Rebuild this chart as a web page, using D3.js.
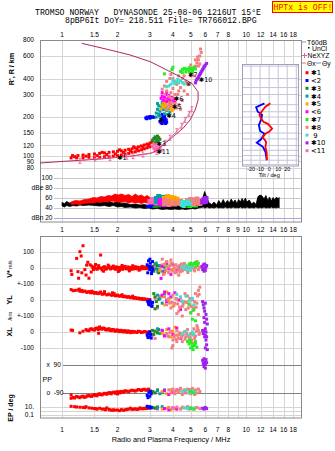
<!DOCTYPE html>
<html><head><meta charset="utf-8">
<script src="https://cdn.jsdelivr.net/npm/d3@7"></script>
<style>body{margin:0;background:#fff}svg{display:block;font-family:"Liberation Sans",Arial,sans-serif}</style>
</head><body><svg id="c" width="335" height="451"></svg>
<script>
// ---------- DATA ----------
const freqGrid = [1,1.5,2,3,4,5,6,7,8,9,10,12,14,16,18];
const topFreqLabels = [1,1.5,2,3,4,5,6,7,8,10,12,14,16,18];
const midFreqLabels = [1,1.5,2,3,4,5,6,7,8,9,10,12,14,16,18];
const botFreqLabels = [1,1.5,2,3,4,5,6,7,8,10,12,14,16,18];
const heightTicks = [800,600,400,300,200,150,120,100,90,80];
const dbTicks = [100,80,60,40,20];
const dbTickLabels = ["100","dBe 80","60","40","dBn 20"];
const classNames = ["\u27311","<2","\u27313","\u27314","\u27315","<6","\u27317","\u27318"," 9","\u273110","<11"];
const classColors = ["#ff0000","#0000ff","#1f8a1f","#00a0a0","#ffa500","#ff00ff","#22ee22","#f08080","#40e0d0","#a020f0","#ff69b4"];

// Ne profile (MHz, km)
const neProfile = [[0.76,87.5],[1.0,90],[1.61,94],[2.34,99],[3.01,104],[3.27,109],[3.41,117],[3.71,128],[4.11,145],[4.55,164],[4.96,190],[5.28,227],[5.48,271],[5.48,315],[5.07,367],[4.38,413],[3.71,466],[3.01,542],[2.34,611],[1.89,660],[1.28,754]];
const neXYZ = [[1.25,91],[1.51,95],[1.82,96],[2.25,98],[2.43,99],[2.75,102],[3.28,107],[3.63,126],[3.86,138],[4.2,155],[4.47,171],[4.66,190],[4.9,212],[5.07,230]];

// top panel echoes (MHz, km)
const c1Top = [[1.12,96],[1.2,96],[1.3,96],[1.4,97],[1.5,97],[1.6,97],[1.7,98],[1.8,98],[1.9,99],[2.0,100],[2.1,101],[2.2,103],[2.3,104],[2.4,106],[2.5,107],[2.6,109],[2.7,111],[2.8,113],[2.9,115],[3.0,117],
 [1.14,100],[1.22,100],[1.3,101],[1.4,102],[1.5,103],[1.6,104],[1.7,105],[1.8,106],[1.9,107],[2.0,108],[2.1,109],[2.2,110],[2.3,112],[2.4,113],[2.5,115],[2.6,117],[2.7,119],[2.8,121],[2.9,123],[3.0,125],[3.06,127],
 [1.17,98],[1.35,99],[1.55,100],[1.75,102],[1.95,103],[2.15,106],[2.35,109],[2.55,112],[2.75,116],[2.95,120],[1.65,106],[2.05,111],[2.45,117]];
const c2Top = [[2.85,197],[2.9,200],[2.95,198],[3.0,196],[3.05,199],[3.1,201],[3.15,199],[2.88,194],[3.0,202],[3.4,185],[3.45,180],[3.5,178],[3.55,183],[3.6,188],[3.45,192],[3.5,196],[3.55,200],[3.62,195],[3.68,190],[3.4,205],[3.5,210],[3.6,205],[3.7,182],[3.65,178]];
const c3Top = [[3.1,132],[3.15,136],[3.2,140],[3.25,135],[3.3,130],[3.35,138],[3.2,128],[3.3,142],[3.4,134]];
const c4Top = [[3.25,215],[3.3,230],[3.35,245],[3.3,255],[3.4,222],[3.45,238],[3.5,250],[3.55,228],[3.6,212],[3.65,240],[3.7,225],[3.75,210],[3.8,232],[3.85,218],[3.25,200],[3.4,205],[3.9,245],[3.5,262],[3.6,255],[3.35,210]];
const c5Top = [[3.45,232],[3.5,248],[3.55,262],[3.6,240],[3.65,255],[3.7,228],[3.75,245],[3.8,260],[3.85,236],[3.9,250],[3.95,225],[4.0,242],[4.05,232],[3.6,270],[3.75,272]];
const c6Top = [[3.45,280],[3.5,292],[3.55,270],[3.6,285],[3.65,300],[3.7,265],[3.75,280],[3.8,295],[3.85,272],[3.9,258],[3.95,285],[4.0,268],[4.05,278],[4.1,262],[3.5,310],[3.7,312]];
const c7Top = [[4.4,455],[4.5,470],[4.6,480],[4.7,475],[4.8,470],[4.9,485],[5.0,480],[5.1,470],[5.2,490],[5.3,475],[4.5,445],[4.7,450],[4.9,455],[5.1,448],[3.6,435],[3.95,470],[4.0,490]];
const c8Top = [[3.7,230],[3.8,245],[3.9,260],[4.0,240],[4.1,255],[4.2,235],[4.3,250],[4.4,230],[3.6,300],[3.7,320],[3.8,290],[3.9,310],[4.0,335],[4.1,300],[4.2,280],[4.3,320],[4.5,270],[3.5,330],[3.6,350],[3.7,380],[3.85,400],[3.9,430],[4.0,400],[4.2,360],[4.4,340],[4.6,320],[4.8,300],[4.3,420],[4.5,400],[4.7,380],[4.9,360],[5.0,420],[5.1,450],[5.2,480],[5.3,500],[5.4,530],[5.5,560],[5.6,600],[5.7,640],[5.5,500],[5.6,520],[5.2,420],[4.9,470],[5.0,510],[5.3,560],[5.45,590],[5.65,680],[4.1,380],[4.6,420],[3.95,280],[4.25,300]];
const c9Top = [[3.9,360],[4.0,375],[4.1,365],[4.2,380],[4.3,370],[4.4,385],[4.5,372],[4.6,362],[3.8,350],[4.0,390],[4.25,395],[3.7,345]];
const c10Top = [[5.3,370],[5.35,385],[5.4,395],[5.5,410],[5.55,420],[5.6,430],[5.7,450],[5.75,460],[5.85,480],[5.9,495],[6.0,510],[6.1,525],[5.45,400],[5.65,440],[5.8,470],[5.95,500]];
const c11Top = [[3.1,118],[3.15,114],[3.2,122],[3.25,116],[3.3,112],[3.35,120],[3.4,115],[3.45,110],[3.2,110],[3.3,124],[3.15,122]];
const echoLabels = [[2.07,97,"\u27311"],[3.48,190,"\u2731"],[3.38,125,"\u27313"],[3.83,204,"\u27314"],[4.11,242,"\u27315"],[4.2,280,"\u27316"],[5.02,432,"\u27317"],[4.86,367,"\u2297"],[5.74,395,"\u273110"],[3.38,108,"\u273111"]];

// inset tilt (deg, km)
const tiltX = [[1.4,256],[-4.4,240],[-7,227],[-10.8,208],[-8.9,196],[-6.3,184],[-1.4,177],[3.3,163],[0.3,154],[-4.1,148],[-7,139],[-3.3,128],[-4.1,117],[-2.6,104],[-2.6,92]];
const tiltY = [[-5.2,256],[-14.4,239],[-12.6,220],[-7.8,208],[-8.9,190],[-11.4,173],[-10,156],[-5.2,148],[-8.9,134],[-13.7,126],[-7,117],[-4.1,107],[-2.6,92]];
const insetGridH = [500,400,340,300,250,220,200,175,150,135,120,110,100,92,85];
const insetGridT = [-20,-10,0,10,20,30];
const insetLabelT = [-20,-10,0,10,20];

// dB panel (MHz, low dB, high dB)
const noiseDb = [[1.0,44,51],[1.03,42,49],[1.06,45,53],[1.1,43,50],[1.15,45,52],[1.2,44,49],[1.25,46,53],[1.3,45,50],[1.4,46,54],[1.5,45,51],[1.6,44,55],[1.7,45,52],[1.8,43,54],[1.9,45,50],[2.0,42,53],[2.1,43,49],[2.2,41,50],[2.35,42,47],[2.5,40,48],[2.65,41,46],[2.8,39,47],[2.95,40,45],[3.1,38,46],[3.3,39,44],[3.5,37,45],[3.7,38,43],[3.9,37,46],[4.1,38,44],[4.3,37,47],[4.5,38,45],[4.7,37,44],[4.9,38,46],[5.1,39,45],[5.3,38,47],[5.5,40,46],[5.7,41,52],[5.85,42,64],[5.95,40,73],[6.05,41,66],[6.15,42,58],[6.3,40,50],[6.5,41,47],[6.7,40,52],[6.9,42,46],[7.1,40,55],[7.3,41,48],[7.5,40,57],[7.7,42,49],[7.9,40,55],[8.1,41,50],[8.3,40,58],[8.5,42,51],[8.7,40,56],[8.9,41,49],[9.1,40,57],[9.3,42,52],[9.5,40,59],[9.7,41,53],[9.9,40,60],[10.1,42,52],[10.4,40,56],[10.7,41,48],[11.0,40,52],[11.3,42,47],[11.6,40,63],[11.9,41,66],[12.2,40,64],[12.5,42,58],[12.8,40,65],[13.1,41,55],[13.4,40,62],[13.7,42,54],[14.0,40,61],[14.3,41,56],[14.6,40,62],[14.9,42,58],[15.1,40,61]];
const c1Db = [[1.12,47,52],[1.18,48,55],[1.25,47,54],[1.32,49,57],[1.4,50,58],[1.48,50,61],[1.55,52,60],[1.62,51,63],[1.7,53,62],[1.78,52,65],[1.86,54,64],[1.94,53,68],[2.02,52,66],[2.1,51,68],[2.2,53,65],[2.3,50,67],[2.4,52,63],[2.5,50,68],[2.6,51,64],[2.7,49,66],[2.8,51,62],[2.9,50,65],[3.0,48,61]];
const c2Db = [[2.95,40,46],[3.05,41,47],[3.15,42,45]];
const c3Db = [[3.2,40,44],[3.35,41,45],[4.85,40,44]];
const c4Db = [[3.25,48,64],[3.35,50,68],[3.45,47,62],[3.55,49,66]];
const c5Db = [[3.6,46,64],[3.75,48,68],[3.9,45,66],[4.05,47,65],[4.2,46,63]];
const c6Db = [[3.4,44,60],[3.55,42,58],[3.7,45,62],[3.85,43,57],[4.0,44,60],[4.3,45,58]];
const c7Db = [[4.95,40,43],[5.3,41,44]];
const c8Db = [[3.6,44,60],[3.8,42,58],[4.1,43,55],[4.4,44,58],[4.8,43,60],[5.0,44,62],[5.2,42,61],[5.4,45,63],[5.6,44,60]];
const c9Db = [[4.5,42,55],[4.6,40,56],[4.7,43,54],[4.8,41,57],[4.9,42,53]];
const c10Db = [[5.8,47,58],[5.9,49,62],[6.0,48,60],[6.05,50,64]];
const c11Db = [[3.0,44,58],[3.1,46,62],[3.2,43,60],[3.3,45,57]];

// V* (m/s)
const c1V = [[1.12,-17],[1.13,-40],[1.22,-23],[1.23,-64],[1.2,60],[1.25,102],[1.27,75],[1.3,139],[1.35,-44],[1.38,36],[1.4,-64],[1.45,12],[1.62,81],[1.42,20],[1.48,-10],[1.5,5],[1.55,-8],[1.58,15],[1.6,0],[1.65,-12],[1.7,8],[1.75,-5],[1.8,10],[1.85,-3],[1.9,12],[1.95,-8],[2.0,4],[2.05,-15],[2.1,6],[2.15,-4],[2.2,10],[2.25,-6],[2.3,2],[2.35,-10],[2.4,5],[2.45,-3],[2.5,8],[2.55,-5],[2.6,0],[2.65,-8],[2.7,4],[2.75,-2],[2.8,6],[2.85,-4],[2.9,2],[2.95,-6],[3.0,3],[1.44,-25],[1.52,22],[1.68,-20],[1.78,18],[2.02,-22],[2.12,16],[2.32,-18],[2.42,14],[2.62,-14],[2.72,10],
 [1.47,3],[1.53,-4],[1.57,6],[1.63,-3],[1.67,4],[1.72,-7],[1.77,3],[1.83,-6],[1.87,5],[1.92,-2],[1.97,7],[2.03,-5],[2.07,3],[2.13,-8],[2.17,5],[2.23,-3],[2.28,7],[2.33,-5],[2.38,3],[2.43,-7],[2.48,2],[2.53,-3],[2.58,5],[2.63,-2],[2.68,-5],[2.73,3],[2.78,-4],[2.83,2],[2.88,-3],[2.93,4],[2.98,-2],[3.02,5],[1.33,-10],[1.36,18],[1.28,-30]];
const c2V = [[2.9,20],[2.95,45],[3.0,-10],[3.02,30],[3.05,5],[3.08,-20],[3.1,40],[3.12,-5],[2.92,-30],[3.0,55],[2.97,10],[3.06,-35]];
const c3V = [[3.1,10],[3.15,-20],[3.2,25],[3.25,-5],[3.3,15],[3.35,-30]];
const c4V = [[3.25,30],[3.3,-10],[3.4,15],[3.5,-20],[3.6,5],[3.7,25]];
const c5V = [[3.4,-15],[3.5,20],[3.6,-35],[3.7,10],[3.8,-25],[3.9,30],[4.0,-10]];
const c6V = [[3.45,-65],[3.5,10],[3.6,-20],[3.7,35],[3.8,-5],[3.9,-40],[4.0,20],[4.2,-15],[4.3,5]];
const c7V = [[4.9,25],[5.0,30],[5.1,20],[5.2,28],[5.3,35],[5.4,22],[5.5,30],[5.35,15]];
const c8V = [[3.5,55],[3.55,-40],[3.6,25],[3.65,-15],[3.7,40],[3.75,5],[3.8,-30],[3.85,15],[3.9,-10],[3.95,30],[4.0,-20],[4.05,10],[4.1,-5],[4.15,20],[4.2,-25],[4.25,8],[4.3,-12],[4.35,15],[4.4,-8],[4.45,25],[4.5,-18],[4.55,5],[4.6,-10],[4.65,18],[4.7,-5],[4.75,10],[4.8,-15],[4.85,6],[4.9,-8],[4.95,12],[5.0,-3],[5.1,8],[5.2,-6],[5.3,4],[5.4,40],[5.5,-10],[5.6,5],[4.3,-45],[3.9,50],[4.12,-30],[4.38,-25],[4.62,28],[4.82,-28],[5.05,15],[5.25,-18],[5.45,12]];
const c9V = [[4.5,10],[4.6,-5],[4.7,15],[4.8,-10],[4.9,5],[5.0,-15],[5.1,8]];
const c10V = [[5.75,10],[5.8,-10],[5.85,20],[5.9,0],[5.95,25],[6.0,-15],[6.05,5],[6.1,15],[5.9,-20]];
const c11V = [[3.1,-10],[3.2,15],[3.3,-25],[3.4,5]];

// YL (km)
const c1YL = [[1.12,65],[1.15,58],[1.22,62],[1.25,55],[1.28,60],[1.3,52],[1.33,56],[1.36,48],[1.4,52],[1.43,45],[1.46,50],[1.5,42],[1.53,47],[1.56,40],[1.6,44],[1.65,36],[1.7,40],[1.75,32],[1.8,37],[1.85,30],[1.9,34],[1.95,26],[2.0,31],[2.05,24],[2.1,28],[2.15,20],[2.2,24],[2.25,17],[2.3,21],[2.35,14],[2.4,18],[2.45,11],[2.5,15],[2.55,9],[2.6,12],[2.65,6],[2.7,9],[2.75,4],[2.8,7],[2.85,2],[2.9,5],[2.95,0],[3.0,2],[1.7,52],[1.88,45],
 [1.18,60],[1.27,57],[1.38,50],[1.48,46],[1.58,42],[1.68,38],[1.78,35],[1.88,31],[1.98,28],[2.08,25],[2.18,22],[2.28,19],[2.38,16],[2.48,13],[2.58,10],[2.68,8],[2.78,5],[2.88,3],[2.98,1],[1.24,68],[1.45,55],[1.62,50],[1.92,40],[2.12,33],[2.42,24]];
const c2YL = [[2.92,-10],[2.95,-25],[3.0,-5],[3.02,-20],[3.05,-35],[3.1,-15],[2.98,-30],[3.08,-40]];
const c3YL = [[3.15,40],[3.2,20],[3.25,-10],[3.3,-40],[3.35,5],[3.2,-55]];
const c4YL = [[3.3,30],[3.4,10],[3.5,-20],[3.6,40],[3.7,0]];
const c5YL = [[3.5,20],[3.6,-30],[3.7,50],[3.8,-10],[3.9,15],[4.0,-40]];
const c6YL = [[3.5,30],[3.6,50],[3.7,-10],[3.8,40],[3.9,20],[4.1,45],[4.3,0],[4.4,-60]];
const c7YL = [[4.9,-25],[5.0,-80],[5.1,-120],[5.2,-60],[5.3,-130]];
const c8YL = [[3.6,20],[3.7,-30],[3.8,10],[3.9,-50],[4.0,30],[4.1,-20],[4.2,5],[4.3,-70],[4.4,15],[4.5,-40],[4.6,-10],[4.7,-60],[4.8,25],[4.9,-30],[5.0,-80],[5.1,0],[5.2,-50],[5.3,40],[5.4,-20],[5.5,60],[5.6,80],[5.5,-90],[4.5,-100],[4.2,-85],[3.95,-15],[4.65,40],[5.25,-10],
 [3.75,0],[3.85,-20],[4.05,-35],[4.15,10],[4.25,-25],[4.35,-45],[4.45,-5],[4.55,-25],[4.75,-15],[4.85,-50],[4.95,10],[5.05,-40],[5.15,-65],[5.35,-45],[5.45,25],[5.55,35]];
const c9YL = [[4.2,35],[4.4,20],[4.5,-10],[4.7,25],[4.9,-5],[5.1,10],[5.2,-30]];
const c10YL = [[5.8,-10],[5.85,-30],[5.9,-50],[5.95,-70],[6.0,-20],[6.05,-90],[6.1,-120],[6.15,-150],[5.9,-110],[6.0,-180],[5.95,-140],[6.05,-200],[6.1,-230]];
const c11YL = [[3.1,-30],[3.2,10],[3.3,-50],[3.4,25]];

// XL (km)
const c1XL = [[1.12,12],[1.14,10],[1.25,-5],[1.3,5],[1.35,15],[1.4,8],[1.45,20],[1.5,12],[1.55,25],[1.6,32],[1.65,18],[1.7,22],[1.75,12],[1.8,20],[1.85,8],[1.9,15],[1.95,5],[2.0,12],[2.05,2],[2.1,10],[2.15,0],[2.2,8],[2.25,-2],[2.3,6],[2.35,-4],[2.4,4],[2.5,0],[2.6,5],[2.7,-3],[2.8,3],[2.9,-5],[3.0,2],[1.58,-8],
 [1.37,10],[1.42,18],[1.47,14],[1.52,22],[1.57,15],[1.62,20],[1.67,25],[1.72,15],[1.77,18],[1.82,10],[1.87,16],[1.92,8],[1.97,12],[2.02,6],[2.07,10],[2.12,4],[2.17,7],[2.22,2],[2.27,5],[2.32,0],[2.37,3],[2.42,-2],[2.47,2],[2.55,-3],[2.65,2],[2.75,-1],[2.85,1],[2.95,-2]];
const c2XL = [[2.9,-20],[2.93,-35],[2.96,-10],[3.0,-30],[3.03,-15],[3.05,-38],[2.98,0]];
const c3XL = [[3.1,10],[3.15,-15],[3.2,5],[3.3,-5],[3.35,15]];
const c4XL = [[3.3,20],[3.4,-10],[3.5,10],[3.6,-20]];
const c5XL = [[3.5,-10],[3.7,15],[3.9,-30],[4.1,30],[4.2,-20],[4.0,5]];
const c6XL = [[3.5,10],[3.6,-25],[3.8,20],[4.0,-15],[4.2,25],[4.4,-40]];
const c7XL = [[4.8,-60],[4.9,-75],[5.0,-65],[5.1,-90],[5.2,-80],[5.3,-70],[5.4,-95],[5.15,-110],[5.0,-100],[5.3,-60],[4.95,-50],[5.25,-85]];
const c8XL = [[3.7,-10],[3.8,-30],[3.9,5],[4.0,-50],[4.1,-20],[4.2,10],[4.3,-40],[4.4,-15],[4.5,-60],[4.6,0],[4.7,-30],[4.8,15],[4.9,-45],[5.0,-10],[5.1,-70],[5.2,20],[5.3,-25],[5.4,40],[5.5,10],[5.6,-5],[4.0,-85],[3.95,-100],[4.2,-60],
 [3.75,-25],[3.85,-5],[4.05,-30],[4.15,-45],[4.25,-20],[4.35,-5],[4.45,-35],[4.55,-20],[4.65,-45],[4.75,-10],[4.85,-25],[4.95,-30],[5.05,-50],[5.15,-20],[5.25,-40],[5.35,5],[5.45,25],[5.55,-15]];
const c9XL = [[4.5,-10],[4.7,5],[4.9,-20],[5.1,0],[5.2,-15]];
const c10XL = [[5.8,10],[5.85,-10],[5.9,5],[5.95,-30],[6.0,-20],[6.05,-50],[6.1,-80],[6.15,-110],[6.0,-100]];
const c11XL = [[3.1,-20],[3.2,-40],[3.3,-5]];

// PP (deg)
const c1PP = [[1.12,-124],[1.15,-118],[1.2,-112],[1.25,-120],[1.3,-110],[1.35,-115],[1.4,-106],[1.45,-112],[1.5,-100],[1.55,-108],[1.6,-95],[1.65,-102],[1.7,-92],[1.75,-98],[1.8,-88],[1.85,-95],[1.9,-85],[1.95,-92],[2.0,-82],[2.05,-90],[2.1,-80],[2.15,-86],[2.2,-76],[2.3,-82],[2.4,-72],[2.5,-78],[2.6,-68],[2.7,-74],[2.8,-66],[2.9,-70],[1.12,-102],[2.0,-96],
 [1.17,-122],[1.22,-116],[1.27,-114],[1.32,-118],[1.37,-108],[1.42,-110],[1.47,-104],[1.52,-106],[1.57,-98],[1.62,-100],[1.67,-96],[1.72,-94],[1.77,-92],[1.82,-90],[1.87,-88],[1.92,-86],[1.97,-84],[2.02,-86],[2.07,-82],[2.12,-84],[2.18,-80],[2.25,-78],[2.35,-76],[2.45,-75],[2.55,-72],[2.65,-70],[2.75,-68],[2.85,-72],[2.95,-65]];
const c2PP = [[2.9,-105],[2.93,-120],[2.96,-85],[3.0,-110],[3.02,-78],[3.05,-95]];
const c3PP = [[3.1,-80],[3.2,-90],[3.3,-70]];
const c4PP = [[3.3,-75],[3.4,-95],[3.5,-85],[3.6,-70]];
const c5PP = [[3.5,-80],[3.7,-95],[3.9,-70],[4.1,-88]];
const c6PP = [[3.6,-75],[3.8,-100],[4.0,-85],[4.2,-70]];
const c7PP = [[5.0,-80],[5.2,-90]];
const c8PP = [[3.8,-70],[3.9,-90],[4.0,-65],[4.1,-95],[4.2,-75],[4.3,-85],[4.4,-60],[4.5,-100],[4.6,-70],[4.7,-90],[4.8,-65],[4.9,-80],[5.0,-95],[5.1,-60],[5.2,-85],[5.3,-70],[5.4,-90],[5.5,-65],[5.6,-80],[4.05,-80],[4.35,-70],[4.65,-82],[4.95,-68],[5.25,-100]];
const c9PP = [[4.5,-80],[4.7,-70],[4.9,-90],[5.1,-75],[5.2,-85]];
const c10PP = [[5.8,120],[5.85,100],[5.9,130],[5.95,110],[6.0,95],[6.05,125],[6.1,105],[5.9,80],[6.0,70]];
const c11PP = [[3.2,-85],[3.3,-75]];

// EP (deg)
const c1EP = [[1.12,15],[1.2,10],[1.3,8],[1.4,6],[1.5,4],[1.6,5],[1.7,3],[1.8,2.5],[1.9,2],[2.0,1.8],[2.1,2.2],[2.2,2],[2.3,3],[2.4,2.5],[2.5,3.5],[2.6,3],[2.7,4],[2.8,5],[2.9,4.5],[3.0,6],[1.35,12],[1.55,3],[1.75,6],[2.05,1.2],[2.35,5],[2.65,6],
 [1.17,12],[1.25,9],[1.33,7],[1.45,5],[1.52,4],[1.65,3],[1.72,2],[1.82,1.8],[1.87,1.5],[1.93,1.6],[2.15,1.5],[2.25,2.5],[2.45,3],[2.55,2.5],[2.75,3.5],[2.85,4],[2.95,5]];
const c2EP = [[2.9,15],[2.95,8],[3.0,12],[3.05,6]];
const c3EP = [[3.1,8],[3.2,5],[3.3,10]];
const c4EP = [[3.3,6],[3.5,12],[3.6,4]];
const c5EP = [[3.5,3],[3.7,5],[3.9,2],[4.1,4]];
const c6EP = [[3.6,4],[3.8,2],[4.0,6],[4.2,3]];
const c7EP = [[5.0,5],[5.2,3]];
const c8EP = [[3.8,8],[4.0,4],[4.2,10],[4.4,3],[4.6,6],[4.8,12],[5.0,5],[5.2,3],[5.4,8],[5.6,4],[4.5,9],[4.9,3],[5.3,6]];
const c9EP = [[4.6,6],[4.8,4],[5.0,8],[5.2,5]];
const c10EP = [[5.8,5],[5.9,3],[6.0,8],[6.1,4]];
const c11EP = [[3.2,6],[3.3,3]];

// ---------- DRAW ----------
const svg = d3.select("#c");
const L = 40, R = 302;
const x = d3.scaleLog().domain([0.759, 20.1]).range([L, R]);
const yH = d3.scaleLog().domain([800, 80]).range([40, 168]);
const yDb = d3.scaleLinear().domain([20, 100]).range([218, 178]);
const yV = d3.scaleLinear().domain([-100, 100]).range([284, 252]);
const yYL = d3.scaleLinear().domain([-100, 100]).range([316, 284]);
const yXL = d3.scaleLinear().domain([-100, 100]).range([348, 316]);
const yPP = d3.scaleLinear().domain([-90, 90]).range([393, 365]);
const yEP = d3.scaleLog().domain([0.1, 10]).range([415, 407]);
const inX = d3.scaleLinear().domain([-30, 33]).range([242, 299]);

const defs = svg.append("defs");
defs.append("clipPath").attr("id","cpTop").append("rect").attr("x",L).attr("y",40).attr("width",R-L).attr("height",132);
defs.append("clipPath").attr("id","cpDb").append("rect").attr("x",L).attr("y",172).attr("width",R-L).attr("height",50);
defs.append("clipPath").attr("id","cpLow").append("rect").attr("x",L).attr("y",236).attr("width",R-L).attr("height",182);

// Header
const mono = '"Liberation Mono","DejaVu Sans Mono",monospace';
svg.append("text").attr("x",35).attr("y",14.5).attr("font-family",mono).attr("font-size",8.2).style("white-space","pre").text("TROMSO NORWAY   DYNASONDE 25-08-06 1216UT 15\u00B0E");
svg.append("text").attr("x",65).attr("y",22.5).attr("font-family",mono).attr("font-size",8.2).text("8pBP6It DoY= 218.511 File= TR766012.BPG");
svg.append("rect").attr("x",272.5).attr("y",1.5).attr("width",60).attr("height",11).attr("fill","#ffff00").attr("stroke","#ff0000");
svg.append("text").attr("x",273.5).attr("y",10.3).attr("font-family",mono).attr("font-size",8.2).attr("fill","#ff0000").text("HPTx is OFF!");

const grid = svg.append("g").attr("stroke","#d4d4d4").attr("stroke-width",1);
for (const [y0,y1] of [[40,222],[236,418]]) {
  grid.selectAll(null).data(freqGrid).join("line")
    .attr("x1",d=>Math.round(x(d))+0.5).attr("x2",d=>Math.round(x(d))+0.5).attr("y1",y0).attr("y2",y1);
}
grid.selectAll(null).data(heightTicks).join("line")
  .attr("x1",L).attr("x2",R).attr("y1",d=>Math.round(yH(d))+0.5).attr("y2",d=>Math.round(yH(d))+0.5);
grid.selectAll(null).data(dbTicks).join("line")
  .attr("x1",54).attr("x2",R).attr("y1",d=>Math.round(yDb(d))+0.5).attr("y2",d=>Math.round(yDb(d))+0.5)
  .attr("stroke",d=>d===20?"#a8a8e0":"#c8c8c8");
const lowGrid = [yV(100),yV(0),yV(-100),yYL(0),yYL(-100),yXL(0),yXL(-100),yEP(10),yEP(1),yEP(0.1)];
grid.selectAll(null).data(lowGrid).join("line")
  .attr("x1",L).attr("x2",R).attr("y1",d=>Math.round(d)+0.5).attr("y2",d=>Math.round(d)+0.5);
svg.selectAll(null).data([90,-90]).join("line")
  .attr("x1",63).attr("x2",R).attr("y1",d=>Math.round(yPP(d))+0.5).attr("y2",d=>Math.round(yPP(d))+0.5)
  .attr("stroke","#808080");

svg.append("rect").attr("x",L+0.5).attr("y",40.5).attr("width",R-L-1).attr("height",181.5).attr("fill","none").attr("stroke","#8a8a8a");
svg.append("rect").attr("x",L+0.5).attr("y",236.5).attr("width",R-L-1).attr("height",181.5).attr("fill","none").attr("stroke","#8a8a8a");

const fs = 6.6;
function freqLabels(list, y) {
  svg.append("g").selectAll("text").data(list).join("text")
    .attr("x",d=>x(d)).attr("y",y).attr("text-anchor","middle").attr("font-size",fs).text(d=>d);
}
freqLabels(topFreqLabels, 36.5);
freqLabels(midFreqLabels, 232);
freqLabels(botFreqLabels, 432);
svg.append("g").selectAll("text").data(heightTicks).join("text")
  .attr("x",34).attr("y",d=>yH(d)+2.4).attr("text-anchor","end").attr("font-size",fs).text(d=>d);
svg.append("g").selectAll("text").data(dbTicks).join("text")
  .attr("x",52.5).attr("y",d=>yDb(d)+2.4).attr("text-anchor","end").attr("font-size",fs).text((d,i)=>dbTickLabels[i]);
const lowTicks = [[yV(100),"100"],[yV(0),"0"],[yV(-100),"+-100"],[yYL(0),"0"],[yYL(-100),"+-100"],[yXL(0),"0"],[yXL(-100),"-100"],[yEP(10),"10."],[yEP(0.1),"0.1"]];
svg.append("g").selectAll("text").data(lowTicks).join("text")
  .attr("x",34).attr("y",d=>d[0]+2.4).attr("text-anchor","end").attr("font-size",fs).text(d=>d[1]);
svg.append("g").selectAll("text").data([[90,"x  90"],[-90,"o  -90"]]).join("text")
  .attr("x",46.5).attr("y",d=>yPP(d[0])+2.4).attr("font-size",fs).style("white-space","pre").text(d=>d[1]);
svg.append("text").attr("x",42.5).attr("y",382).attr("font-size",7).text("PP");

function rotLabel(cx, cy, parts) {
  const t = svg.append("text").attr("transform",`translate(${cx},${cy}) rotate(-90)`).attr("text-anchor","middle");
  parts.forEach(p => t.append("tspan").attr("font-size",p[1]).attr("font-weight",p[2]||"bold").text(p[0]));
}
rotLabel(14, 69, [["R', R / km",7.2]]);
rotLabel(12, 269, [["V*",7.2],[" m/s",5.2,"normal"]]);
rotLabel(12, 300, [["YL",7.2]]);
rotLabel(12, 316, [["/km",5.6,"normal"]]);
rotLabel(12, 332, [["XL",7.2]]);
rotLabel(13, 408, [["EP / deg",7]]);
svg.append("text").attr("x",171).attr("y",442).attr("text-anchor","middle").attr("font-size",7.4).text("Radio and Plasma Frequency / MHz");

// ---- top panel content ----
const gTop = svg.append("g").attr("clip-path","url(#cpTop)");
const topSets = [c1Top,c2Top,c3Top,c4Top,c5Top,c6Top,c7Top,c8Top,c9Top,c10Top,c11Top];
const drawOrder = [0,10,2,1,3,4,5,7,8,6,9];
function dots(g, data, ys, color, s) {
  g.append("g").attr("fill",color).selectAll("rect").data(data).join("rect")
    .attr("x",d=>x(d[0])-s/2).attr("y",d=>ys(d[1])-s/2).attr("width",s).attr("height",s);
}
drawOrder.forEach(i => dots(gTop, topSets[i], yH, classColors[i], 3));
gTop.append("path").datum(neProfile).attr("fill","none").attr("stroke","#b02858").attr("stroke-width",1)
  .attr("d", d3.line().x(d=>x(d[0])).y(d=>yH(d[1])));
gTop.append("path").datum(neXYZ).attr("fill","none").attr("stroke","#e8609a").attr("stroke-width",0.8)
  .attr("d", d3.line().x(d=>x(d[0])).y(d=>yH(d[1])));
const ig = gTop.append("g").attr("stroke","#e8609a").attr("stroke-width",0.9);
neXYZ.forEach(d => {
  const cx = x(d[0]), cy = yH(d[1]);
  ig.append("line").attr("x1",cx).attr("x2",cx).attr("y1",cy-2.5).attr("y2",cy+2.5);
  ig.append("line").attr("x1",cx-1.5).attr("x2",cx+1.5).attr("y1",cy-2.5).attr("y2",cy-2.5);
  ig.append("line").attr("x1",cx-1.5).attr("x2",cx+1.5).attr("y1",cy+2.5).attr("y2",cy+2.5);
});
gTop.append("g").selectAll("text").data(echoLabels).join("text")
  .attr("x",d=>x(d[0])-3).attr("y",d=>yH(d[1])+2.5).attr("font-size",6.4).attr("fill","#000")
  .attr("font-family",'"DejaVu Sans",sans-serif').text(d=>d[2]);

// inset
const gIn = svg.append("g");
gIn.append("rect").attr("x",242.5).attr("y",64.5).attr("width",56).attr("height",101.5).attr("fill","#fff").attr("stroke","#a0a0bc");
gIn.selectAll(null).data(insetGridT).join("line").attr("stroke","#c4c4d8")
  .attr("x1",d=>inX(d)).attr("x2",d=>inX(d)).attr("y1",65).attr("y2",166);
gIn.selectAll(null).data(insetGridH).join("line").attr("stroke","#c4c4d8")
  .attr("x1",243).attr("x2",298).attr("y1",d=>yH(d)).attr("y2",d=>yH(d));
const tl = d3.line().x(d=>inX(d[0])).y(d=>yH(d[1]));
gIn.append("path").datum(tiltY).attr("fill","none").attr("stroke","#0000ff").attr("stroke-width",1.8).attr("d",tl);
gIn.append("path").datum(tiltX).attr("fill","none").attr("stroke","#ff0000").attr("stroke-width",1.8).attr("d",tl);
gIn.selectAll(null).data(insetLabelT).join("text").attr("x",d=>inX(d)).attr("y",171).attr("text-anchor","middle").attr("font-size",5.4).text(d=>d);
gIn.append("text").attr("x",inX(0)).attr("y",177).attr("text-anchor","middle").attr("font-size",5.6).text("Tilt / deg");

// legend
const lg = svg.append("g").attr("font-size",6.8);
lg.append("line").attr("x1",302).attr("x2",306).attr("y1",42).attr("y2",42).attr("stroke","#999");
lg.append("text").attr("x",307).attr("y",44.5).text("T60dB");
lg.append("rect").attr("x",308).attr("y",47).attr("width",1.5).attr("height",1.5).attr("fill","#000");
lg.append("text").attr("x",312).attr("y",51).text("UnCl");
lg.append("line").attr("x1",302).attr("x2",307).attr("y1",55.5).attr("y2",55.5).attr("stroke","#e8609a");
lg.append("line").attr("x1",304.5).attr("x2",304.5).attr("y1",53).attr("y2",58).attr("stroke","#e8609a");
lg.append("text").attr("x",307.5).attr("y",58).text("NeXYZ");
lg.append("line").attr("x1",302).attr("x2",306).attr("y1",63).attr("y2",63).attr("stroke","#e07070");
lg.append("text").attr("x",307).attr("y",65.5).text("\u0398x");
lg.append("line").attr("x1",316).attr("x2",321).attr("y1",63).attr("y2",63).attr("stroke","#8080e8");
lg.append("text").attr("x",322).attr("y",65.5).text("\u0398y");
classNames.forEach((n,i) => {
  const yy = 72.7 + i*7.8;
  lg.append("rect").attr("x",305.5).attr("y",yy-1.5).attr("width",3).attr("height",3).attr("fill",classColors[i]);
  lg.append("text").attr("x",311).attr("y",yy+2.5).attr("font-family",'"DejaVu Sans",sans-serif').attr("font-size",6.8).style("white-space","pre").text(n);
});

// ---- dB panel ----
const gDb = svg.append("g").attr("clip-path","url(#cpDb)");
gDb.append("path").datum(noiseDb).attr("fill","#000").attr("stroke","#000").attr("stroke-width",0.8)
  .attr("d", d3.area().x(d=>x(d[0])).y0(d=>yDb(d[1])).y1(d=>yDb(d[2])));
gDb.append("path").datum(c1Db).attr("fill","#ff0000").attr("stroke","#ff0000").attr("stroke-width",0.8)
  .attr("d", d3.area().x(d=>x(d[0])).y0(d=>yDb(d[1])).y1(d=>yDb(d[2])));
const dbSets = [null,c2Db,c3Db,c4Db,c5Db,c6Db,c7Db,c8Db,c9Db,c10Db,c11Db];
[10,1,3,5,4,7,8,2,6,9].forEach(i => {
  gDb.append("g").attr("fill",classColors[i]).selectAll("rect").data(dbSets[i]).join("rect")
    .attr("x",d=>x(d[0])-2.5).attr("width",5).attr("y",d=>yDb(d[2])).attr("height",d=>yDb(d[1])-yDb(d[2]));
});

// ---- lower panel ----
const gLow = svg.append("g").attr("clip-path","url(#cpLow)");
const vSets = [c1V,c2V,c3V,c4V,c5V,c6V,c7V,c8V,c9V,c10V,c11V];
const ylSets = [c1YL,c2YL,c3YL,c4YL,c5YL,c6YL,c7YL,c8YL,c9YL,c10YL,c11YL];
const xlSets = [c1XL,c2XL,c3XL,c4XL,c5XL,c6XL,c7XL,c8XL,c9XL,c10XL,c11XL];
const ppSets = [c1PP,c2PP,c3PP,c4PP,c5PP,c6PP,c7PP,c8PP,c9PP,c10PP,c11PP];
const epSets = [c1EP,c2EP,c3EP,c4EP,c5EP,c6EP,c7EP,c8EP,c9EP,c10EP,c11EP];
drawOrder.forEach(i => {
  dots(gLow, vSets[i], yV, classColors[i], 3);
  dots(gLow, ylSets[i], yYL, classColors[i], 3);
  dots(gLow, xlSets[i], yXL, classColors[i], 3);
  dots(gLow, ppSets[i], yPP, classColors[i], 3);
  dots(gLow, epSets[i], yEP, classColors[i], 3);
});
</script></body></html>
